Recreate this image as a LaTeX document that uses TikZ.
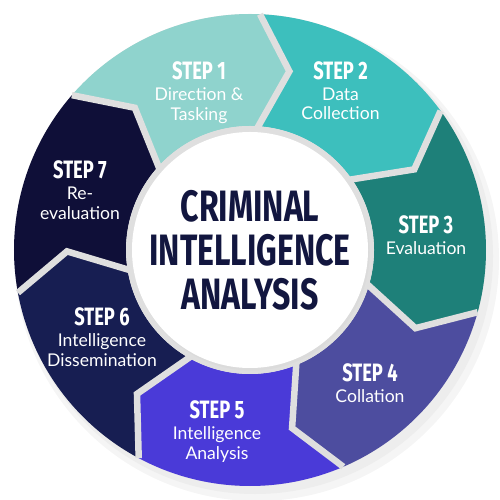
\documentclass[tikz,border=0pt]{standalone}
\usepackage{fontspec}
\setmainfont{Lato}
\newfontfamily\headfont[FakeStretch=0.73]{Fira Sans}
\usepackage{xcolor}
\usetikzlibrary{positioning}
\definecolor{stepone}{HTML}{8FD3CD}
\definecolor{steptwo}{HTML}{3DBFBD}
\definecolor{stepthree}{HTML}{1E8079}
\definecolor{stepfour}{HTML}{4D4D9F}
\definecolor{stepfive}{HTML}{4A3AD8}
\definecolor{stepsix}{HTML}{171E52}
\definecolor{stepseven}{HTML}{0F0F38}
\definecolor{navy}{HTML}{12163F}
\definecolor{gapgrey}{HTML}{DFDFDF}
\def\rin{2.48}
\def\rmid{3.66}
\def\rout{4.72}
\def\rgap{2.36}
\tikzset{
	steptitle/.style={text=white,inner sep=0pt,text height=10pt,text depth=0pt,font=\headfont\bfseries\fontsize{14.3}{15}\selectfont},
	steptext/.style={text=white,inner sep=0pt,align=center,font=\fontsize{10}{11.3}\selectfont},
	centretitle/.style={text=navy,inner sep=0pt,align=center,font=\headfont\bfseries\fontsize{25}{25}\selectfont},
	gapline/.style={gapgrey,line width=0.13cm,line join=miter}
}
\begin{document}
\begin{tikzpicture}
	\useasboundingbox (-5,-5) rectangle (5,5);
	% shadow of the ring
	\fill[black!4] (0.14,-0.18) circle (4.84);
	\fill[black!7] (0.1,-0.12) circle (4.76);
	\fill[gapgrey] (0,0) circle (\rout);
	% the seven steps
	\foreach \a/\col in {139/stepone,87.57/steptwo,36.14/stepthree,-15.29/stepfour,-66.71/stepfive,-118.14/stepsix,-169.57/stepseven}
		\fill[\col] (\a:\rin) -- (\a-10:\rmid) -- (\a:\rout) arc[start angle=\a,end angle=\a-51.43,radius=\rout]
			-- (\a-61.43:\rmid) -- (\a-51.43:\rin) arc[start angle=\a-51.43,end angle=\a,radius=\rin] -- cycle;
	\foreach \a in {139,87.57,36.14,-15.29,-66.71,-118.14,-169.57}
		\draw[gapline] (\a:\rgap) -- (\a-10:\rmid) -- (\a:\rout);
	% centre
	\fill[gapgrey] (0,0) circle (\rin);
	\fill[black!14] (0.03,-0.05) circle (\rgap);
	\fill[white] (0,0) circle (\rgap);
	\node[centretitle] (centre) at (0,0) {CRIMINAL\\INTELLIGENCE\\ANALYSIS};
	% labels
	\node[steptitle] (s1) at (-1.02,3.59) {STEP 1};
	\node[steptext,below=0.15cm of s1] (t1) {Direction \&\\Tasking};
	\node[steptitle] (s2) at (1.81,3.59) {STEP 2};
	\node[steptext,below=0.15cm of s2] (t2) {Data\\Collection};
	\node[steptitle] (s3) at (3.52,0.5) {STEP 3};
	\node[steptext,below=0.15cm of s3] (t3) {Evaluation};
	\node[steptitle] (s4) at (2.4,-2.46) {STEP 4};
	\node[steptext,below=0.15cm of s4] (t4) {Collation};
	\node[steptitle] (s5) at (-0.66,-3.2) {STEP 5};
	\node[steptext,below=0.15cm of s5] (t5) {Intelligence\\Analysis};
	\node[steptitle] (s6) at (-2.96,-1.34) {STEP 6};
	\node[steptext,below=0.15cm of s6] (t6) {Intelligence\\Dissemination};
	\node[steptitle] (s7) at (-3.4,1.6) {STEP 7};
	\node[steptext,below=0.15cm of s7] (t7) {Re-\\evaluation};
\end{tikzpicture}
\end{document}
